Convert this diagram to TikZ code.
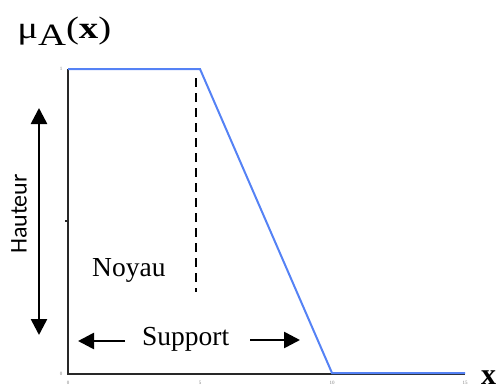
\documentclass[tikz,border=0pt]{standalone}
\usepackage{fontspec}
\setmainfont{Liberation Serif}
\newfontfamily\calib{Carlito}
\usetikzlibrary{arrows.meta}

\definecolor{fuzzyblue}{RGB}{85,130,245}
\definecolor{axisgray}{RGB}{40,40,40}

\tikzset{
  axisline/.style={axisgray, line width=2pt},
  fuzzyline/.style={fuzzyblue, line width=2pt, line join=miter},
  bigarrow/.style={line width=2.6pt, -{Triangle[width=16pt,length=16pt]}},
  ticklabel/.style={font=\fontsize{5}{5}\selectfont, text=gray, inner sep=0pt}
}

\begin{document}
\begin{tikzpicture}[x=1pt,y=-1pt]
\useasboundingbox (0,0) rectangle (498,389);

\draw[axisline] (68,69) -- (68,374) -- (465,374);
\draw[axisgray, line width=1.2pt] (65,221) -- (68,221);

\draw[fuzzyline] (68,69) -- (200,69) -- (332,373) -- (465,373);

\draw[line width=1.8pt, dash pattern=on 9pt off 6pt] (196,78) -- (196,292);

\draw[bigarrow, {Triangle[width=16pt,length=16pt]}-{Triangle[width=16pt,length=16pt]}] (39,108) -- (39,335);
\draw[bigarrow] (125,341) -- (78,341);
\draw[bigarrow] (250,340) -- (300,340);

\node[ticklabel] (t1) at (61,69) {1};
\node[ticklabel] (t0) at (61,374) {0};
\node[ticklabel] (x0) at (68,383) {0};
\node[ticklabel] (x5) at (200,383) {5};
\node[ticklabel] (x10) at (332,383) {10};
\node[ticklabel] (x15) at (465,383) {15};

\node[anchor=base west, inner sep=0pt, xscale=1.25, font=\fontsize{31}{31}\selectfont] (mu) at (17,38) {μ\raisebox{-7pt}{A}(\textbf{x})};
\node[anchor=base west, inner sep=0pt, font=\fontsize{30}{30}\selectfont\bfseries] (xlab) at (481,384) {x};

\node[anchor=base west, inner sep=0pt, font=\fontsize{27.5}{27.5}\selectfont] (noyau) at (92,276) {Noyau};
\node[anchor=base west, inner sep=0pt, font=\fontsize{27.5}{27.5}\selectfont] (support) at (142,345) {Support};
\node[rotate=90, inner sep=0pt, font=\calib\fontsize{24}{24}\selectfont] (hauteur) at (19,214) {Hauteur};
\end{tikzpicture}
\end{document}
